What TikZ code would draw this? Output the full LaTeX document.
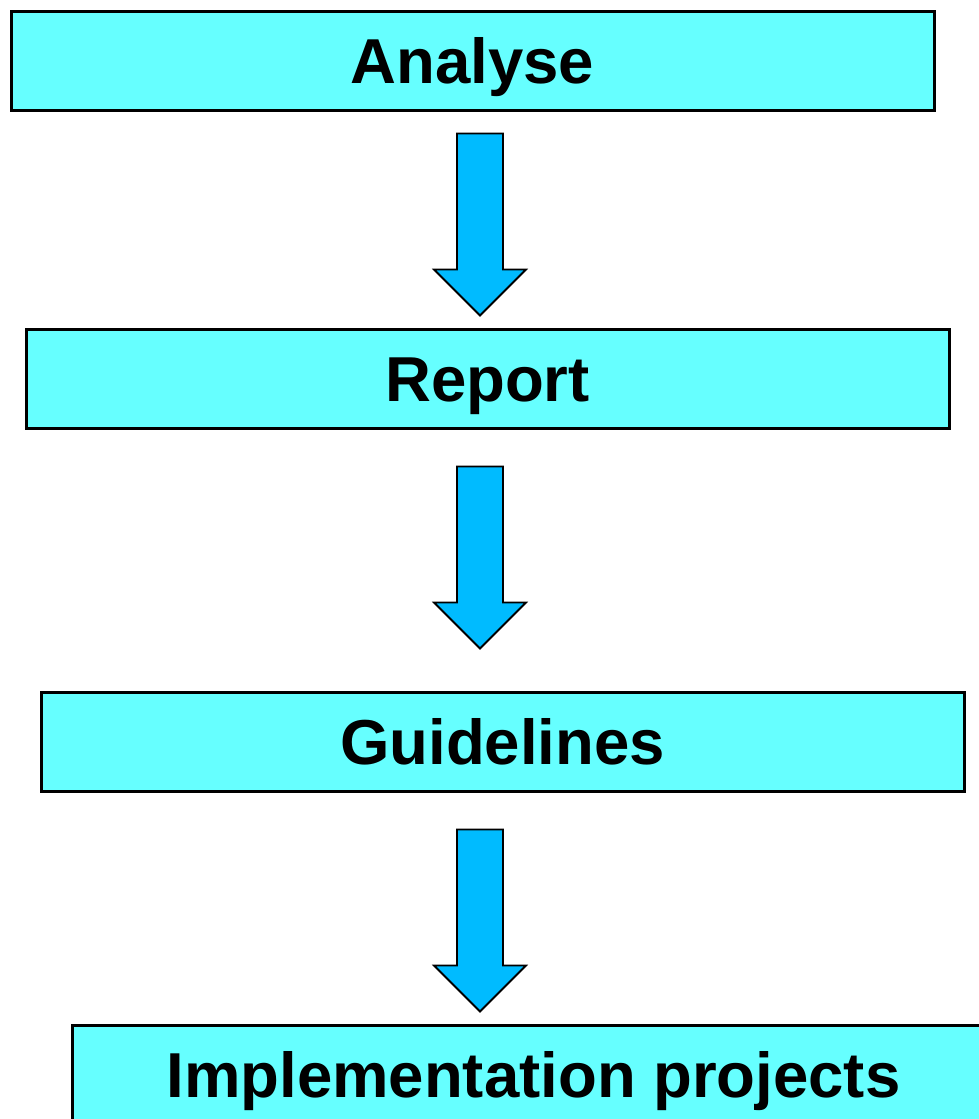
\documentclass[tikz,border=0pt]{standalone}
\usepackage{fontspec}
\setmainfont{Liberation Sans}
\usetikzlibrary{calc}
\definecolor{boxfill}{HTML}{66FFFF}
\definecolor{arrowfill}{HTML}{00BBFF}
\tikzset{
  stagebox/.style={draw=black, line width=3pt, fill=boxfill, minimum width=923pt, minimum height=99pt, inner sep=0pt,
    font=\fontsize{63.5}{76}\selectfont\bfseries, text height=45.5pt, text depth=0pt},
  blockarrowstyle/.style={draw=black, line width=1.8pt, fill=arrowfill, line join=miter},
}
\newcommand{\drawblockarrow}[1]{%
  \draw[blockarrowstyle] ($(#1)+(-23pt,0)$) -- ($(#1)+(23pt,0)$) -- ($(#1)+(23pt,-136pt)$) -- ($(#1)+(46pt,-136pt)$)
    -- ($(#1)+(0,-182pt)$) -- ($(#1)+(-46pt,-136pt)$) -- ($(#1)+(-23pt,-136pt)$) -- cycle;}
\begin{document}
\begin{tikzpicture}[x=1pt,y=-1pt]
\useasboundingbox (0,0) rectangle (979,1119);
\clip (0,0) rectangle (979,1119);
\node[stagebox] (analyse) at (472.5,60.5) {Analyse};
\node[stagebox] (report) at (487.5,378.5) {Report};
\node[stagebox] (guide) at (502.5,741.5) {Guidelines};
\node[stagebox] (impl) at (533.5,1074.5) {Implementation projects};
\coordinate (a1) at ($(analyse.south -| 480,0)+(0,22)$);
\coordinate (a2) at ($(report.south -| 480,0)+(0,37)$);
\coordinate (a3) at ($(guide.south -| 480,0)+(0,37)$);
\drawblockarrow{a1}
\drawblockarrow{a2}
\drawblockarrow{a3}
\end{tikzpicture}
\end{document}
